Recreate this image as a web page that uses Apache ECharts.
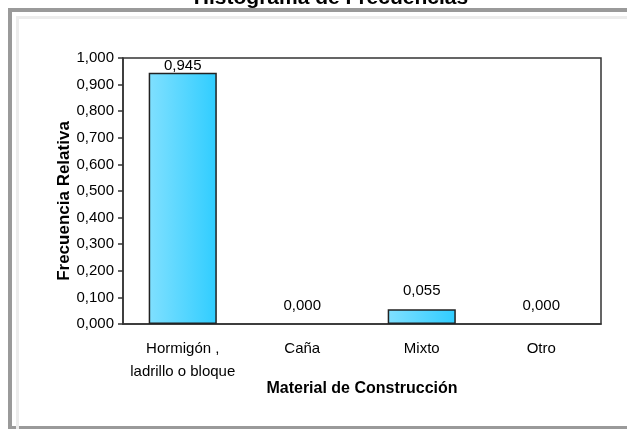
<!DOCTYPE html>
<html>
<head>
<meta charset="utf-8">
<script src="https://cdn.jsdelivr.net/npm/echarts@6/dist/echarts.min.js"></script>
<style>
  html, body { margin: 0; padding: 0; background: #fff; overflow: hidden; }
  #wrap { position: relative; width: 627px; height: 429px; overflow: hidden; }
  .frame-outer {
    position: absolute; left: 8px; top: 8px; width: 660px; height: 422px;
    border: 4px solid #9a9a9a; box-sizing: border-box;
  }
  .frame-inner {
    position: absolute; left: 16px; top: 16px; width: 660px; height: 440px;
    border-left: 3px solid #ececec; border-top: 3px solid #ececec; box-sizing: border-box;
  }
  #chart { position: absolute; left: 0; top: 0; width: 627px; height: 429px; }
</style>
</head>
<body>
<div id="wrap">
  <div class="frame-outer"></div>
  <div class="frame-inner"></div>
  <div id="chart"></div>
</div>
<script>
// categorías y frecuencias relativas
const categories = ['Hormigón ,\nladrillo o bloque', 'Caña', 'Mixto', 'Otro'];
const frecuencias = [0.945, 0.0, 0.055, 0.0];

const FONT = 'Arial, "Liberation Sans", sans-serif';

function fmt(v) {
  return v.toFixed(3).replace('.', ',');
}

const chart = echarts.init(document.getElementById('chart'));

// la etiqueta de la barra más alta queda pegada al borde superior (como en Excel)
// las barras en cero no se dibujan (sin borde), pero sí su etiqueta
const seriesData = frecuencias.map((v) => {
  if (v > 0.9) return { value: v, label: { distance: -1 } };
  if (v === 0) return { value: v, itemStyle: { borderWidth: 0, color: 'rgba(0,0,0,0)' } };
  return v;
});

chart.setOption({
  animation: false,
  title: {
    text: 'Histograma de Frecuencias',
    left: 326,
    top: -17,
    textAlign: 'center',
    textStyle: { fontFamily: FONT, fontSize: 21, fontWeight: 'bold', color: '#000' },
  },
  grid: {
    left: 123,
    right: 26,
    top: 58,
    bottom: 105,
    show: true,
    borderColor: '#333',
    borderWidth: 1.5,
  },
  xAxis: {
    type: 'category',
    data: categories,
    name: 'Material de Construcción',
    nameLocation: 'middle',
    nameGap: 57,
    nameMoveOverlap: false,
    nameTextStyle: { fontFamily: FONT, fontSize: 16, fontWeight: 'bold', color: '#000' },
    axisLine: { lineStyle: { color: '#333', width: 1.5 } },
    axisTick: { show: false },
    axisLabel: {
      fontFamily: FONT,
      fontSize: 15,
      color: '#000',
      lineHeight: 23,
      margin: 13,
      interval: 0,
    },
  },
  yAxis: {
    type: 'value',
    min: 0,
    max: 1,
    interval: 0.1,
    name: 'Frecuencia Relativa',
    nameLocation: 'middle',
    nameGap: 50,
    nameMoveOverlap: false,
    nameTextStyle: {
      fontFamily: FONT,
      fontSize: 17,
      fontWeight: 'bold',
      color: '#000',
      padding: [0, 20, 0, 0],
    },
    axisLine: { show: true, lineStyle: { color: '#333', width: 1.5 } },
    axisTick: { show: true, length: 5, lineStyle: { color: '#333', width: 1.5 } },
    splitLine: { show: false },
    axisLabel: {
      fontFamily: FONT,
      fontSize: 15,
      color: '#000',
      margin: 9,
      formatter: fmt,
    },
  },
  series: [
    {
      type: 'bar',
      data: seriesData,
      barWidth: '57%',
      itemStyle: {
        color: new echarts.graphic.LinearGradient(0, 0, 1, 0, [
          { offset: 0, color: '#80e0ff' },
          { offset: 1, color: '#30cdff' },
        ]),
        borderColor: '#222',
        borderWidth: 1.5,
      },
      label: {
        show: true,
        position: 'top',
        distance: 11,
        fontFamily: FONT,
        fontSize: 15,
        color: '#000',
        formatter: (p) => fmt(p.value),
      },
    },
  ],
});
</script>
</body>
</html>
